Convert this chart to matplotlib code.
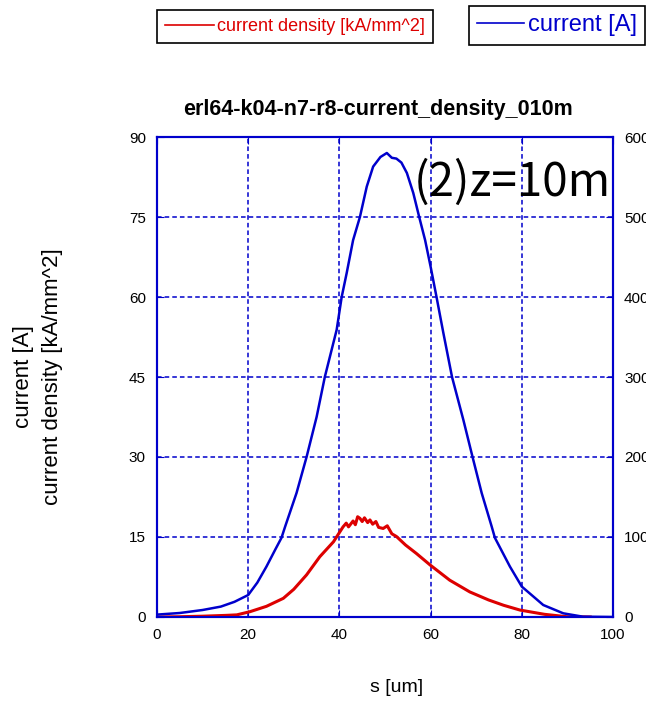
import matplotlib
matplotlib.use("Agg")
import matplotlib.pyplot as plt
from matplotlib.lines import Line2D

# current [A] (right axis)
s_cur = [0, 5, 10, 14, 17, 20, 22, 24, 26, 27.3, 28.1, 30.6, 32.8, 35, 36.8,
         39.4, 40.5, 41.6, 43, 44.5, 46, 47.4, 49, 50.4, 51.5, 52.5, 53.6,
         54.8, 56.2, 57.5, 58.8, 60, 61.3, 62.8, 64.7, 67.2, 69.2, 71.2, 73.4,
         74.1, 77.4, 80, 84.7, 89.1, 93.4, 100]
current = [3, 5, 8.75, 13, 19, 27.5, 43, 63, 85, 99, 113, 155, 200, 250, 300,
           359, 400, 430, 471, 500, 538, 563, 575, 580, 574, 573, 568,
           555, 530, 500, 471, 438, 400, 355, 300, 246, 200, 155, 113,
           99, 63, 38, 15, 4.6, 0.4, 0]

# current density [kA/mm^2] (left axis)
s_dens = [0, 5, 10, 15, 17.5, 20.4, 24, 27.7, 30, 32.8, 35.7, 38.7, 40.8,
          41.5, 42, 43, 43.5, 44, 44.5, 45, 45.5, 46.2, 46.7, 47.3, 48, 48.6,
          49.6, 50.5, 51.5, 52.5, 54.5, 56.9, 59.9, 64.2, 68.6, 72.7, 76,
          79.6, 85, 89.8, 95]
density = [0, 0.05, 0.15, 0.3, 0.4, 1.0, 2.0, 3.5, 5.2, 7.9, 11.3, 14.1, 16.9,
           17.6, 16.9, 18.0, 17.3, 18.8, 18.5, 17.9, 18.6, 17.7, 18.2, 17.4, 17.9, 16.8,
           16.6, 17.1, 15.6, 15.1, 13.5, 11.9, 9.75, 6.9, 4.7, 3.2, 2.2,
           1.3, 0.5, 0.06, 0]

x_ticks = [0, 20, 40, 60, 80, 100]
left_ticks = [0, 15, 30, 45, 60, 75, 90]
right_ticks = [0, 100, 200, 300, 400, 500, 600]

BLUE = "#0000cc"
RED = "#dd0000"

plt.rcParams['font.family'] = ['Liberation Sans', 'DejaVu Sans']

fig = plt.figure(figsize=(6.46, 7.03), dpi=100)
ax = fig.add_axes([157 / 646, 86 / 703, 456 / 646, 480 / 703])
ax2 = ax.twinx()

ax.plot(s_dens, density, color=RED, lw=2.2, zorder=3)
ax2.plot(s_cur, current, color=BLUE, lw=1.8, zorder=3)

ax.set_xlim(0, 100)
ax.set_ylim(0, 90)
ax2.set_ylim(0, 600)
ax.set_xticks(x_ticks)
ax.set_yticks(left_ticks)
ax2.set_yticks(right_ticks)

ax.grid(True, color=BLUE, linestyle=(0, (3, 2)), lw=1.1)
for a in (ax, ax2):
    for sp in a.spines.values():
        sp.set_color(BLUE)
        sp.set_linewidth(1.5)
    a.tick_params(direction='in', length=5, color=BLUE, labelsize=11,
                  labelcolor='black', pad=8)
ax.tick_params(axis='x', top=True)

ax.set_title("erl64-k04-n7-r8-current_density_010m", fontsize=15.5,
             fontweight='bold', pad=16, x=0.485)
fig.text(397 / 646, 1 - 688 / 703, "s [um]", ha='center', va='center',
         fontsize=14)
fig.text(38 / 646, 1 - 377 / 703, "current [A]\ncurrent density [kA/mm^2]",
         rotation=90, ha='center', va='center', fontsize=16,
         multialignment='center', linespacing=1.45)

ax.text(0.995, 0.905, "(2)z=10m", transform=ax.transAxes, ha='right',
        va='center', fontsize=33,
        family=['Noto Sans CJK JP', 'DejaVu Sans'], zorder=5)

leg1 = fig.legend(handles=[Line2D([], [], color=RED, lw=1.2)],
                  labels=["current density [kA/mm^2]"],
                  loc='upper left', bbox_to_anchor=(157 / 646, 1 - 10 / 703),
                  borderaxespad=0, fontsize=13, labelcolor='linecolor',
                  handlelength=2.7, handletextpad=0.15, borderpad=0.45,
                  fancybox=False, edgecolor='black', framealpha=1)
leg1.get_frame().set_linewidth(1.2)
leg2 = fig.legend(handles=[Line2D([], [], color=BLUE, lw=1.2)],
                  labels=["current [A]"],
                  loc='upper left', bbox_to_anchor=(469 / 646, 1 - 6 / 703),
                  borderaxespad=0, fontsize=17, labelcolor='linecolor',
                  handlelength=2.0, handletextpad=0.15, borderpad=0.35,
                  fancybox=False, edgecolor='black', framealpha=1)
leg2.get_frame().set_linewidth(1.2)

fig.savefig("out.png", dpi=100)
